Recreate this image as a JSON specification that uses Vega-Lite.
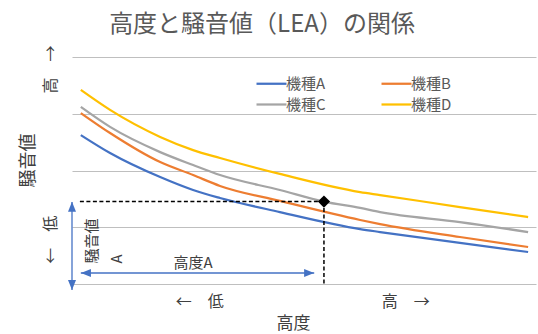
{
  "$schema": "https://vega.github.io/schema/vega-lite/v6.json",
  "width": 464,
  "height": 227,
  "autosize": {"type": "none"},
  "padding": {"left": 72, "top": 57, "right": 2, "bottom": 50},
  "title": {
    "text": "高度と騒音値（LEA）の関係",
    "frame": "group",
    "anchor": "middle",
    "dx": -42,
    "offset": 8,
    "fontSize": 24,
    "fontWeight": "normal",
    "color": "#595959"
  },
  "config": {
    "font": "Noto Sans CJK JP",
    "view": {"stroke": null},
    "axis": {"domain": false, "ticks": false, "tickSize": 0}
  },
  "datasets": {
    "curves": [
      {"model": "機種A", "altitude": 1.9, "noise": 65.6},
      {"model": "機種A", "altitude": 8.2, "noise": 57.7},
      {"model": "機種A", "altitude": 19.0, "noise": 47.1},
      {"model": "機種A", "altitude": 26.1, "noise": 41.4},
      {"model": "機種A", "altitude": 31.9, "noise": 37.9},
      {"model": "機種A", "altitude": 44.8, "noise": 31.7},
      {"model": "機種A", "altitude": 62.1, "noise": 24.2},
      {"model": "機種A", "altitude": 66.4, "noise": 22.9},
      {"model": "機種A", "altitude": 83.6, "noise": 18.1},
      {"model": "機種A", "altitude": 98.3, "noise": 14.1},
      {"model": "機種B", "altitude": 1.9, "noise": 75.3},
      {"model": "機種B", "altitude": 8.2, "noise": 66.5},
      {"model": "機種B", "altitude": 19.0, "noise": 53.7},
      {"model": "機種B", "altitude": 26.1, "noise": 48.0},
      {"model": "機種B", "altitude": 31.9, "noise": 43.2},
      {"model": "機種B", "altitude": 44.8, "noise": 36.6},
      {"model": "機種B", "altitude": 62.1, "noise": 28.2},
      {"model": "機種B", "altitude": 66.4, "noise": 26.4},
      {"model": "機種B", "altitude": 83.6, "noise": 20.7},
      {"model": "機種B", "altitude": 98.3, "noise": 16.3},
      {"model": "機種C", "altitude": 1.9, "noise": 78.0},
      {"model": "機種C", "altitude": 8.2, "noise": 69.2},
      {"model": "機種C", "altitude": 19.0, "noise": 58.1},
      {"model": "機種C", "altitude": 26.1, "noise": 52.4},
      {"model": "機種C", "altitude": 31.9, "noise": 48.0},
      {"model": "機種C", "altitude": 44.8, "noise": 41.4},
      {"model": "機種C", "altitude": 54.3, "noise": 36.3},
      {"model": "機種C", "altitude": 62.1, "noise": 33.5},
      {"model": "機種C", "altitude": 66.4, "noise": 31.7},
      {"model": "機種C", "altitude": 83.6, "noise": 27.3},
      {"model": "機種C", "altitude": 98.3, "noise": 22.9},
      {"model": "機種D", "altitude": 1.9, "noise": 85.5},
      {"model": "機種D", "altitude": 8.2, "noise": 76.7},
      {"model": "機種D", "altitude": 19.0, "noise": 64.8},
      {"model": "機種D", "altitude": 26.1, "noise": 59.0},
      {"model": "機種D", "altitude": 31.9, "noise": 55.5},
      {"model": "機種D", "altitude": 44.8, "noise": 48.5},
      {"model": "機種D", "altitude": 62.1, "noise": 40.5},
      {"model": "機種D", "altitude": 66.4, "noise": 39.2},
      {"model": "機種D", "altitude": 83.6, "noise": 33.9},
      {"model": "機種D", "altitude": 98.3, "noise": 29.5}
    ],
    "dashes": [
      {"item": "noise level", "x": 1.7, "x2": 54.3, "y": 36.3, "y2": 36.3},
      {"item": "altitude", "x": 54.3, "x2": 54.3, "y": 36.3, "y2": 0}
    ],
    "arrows": [
      {"item": "騒音値A", "x": 0, "x2": 0, "y": 36.1, "y2": -2.6},
      {"item": "高度A", "x": 1.9, "x2": 52.2, "y": 4.85, "y2": 4.85}
    ],
    "heads": [
      {"dir": "up", "x": 0, "y": 34.0},
      {"dir": "down", "x": 0, "y": -0.4},
      {"dir": "left", "x": 3.0, "y": 4.85},
      {"dir": "right", "x": 51.1, "y": 4.85}
    ],
    "point": [{"model": "機種C", "altitude": 54.3, "noise": 36.3}],
    "labels": [
      {"text": "高度A", "x": 26.1, "y": 9.3, "rot": "no"},
      {"text": "騒音値", "x": 4.3, "y": 18.9, "rot": "yes"},
      {"text": "A", "x": 9.7, "y": 11.0, "rot": "yes"}
    ]
  },
  "layer": [
    {
      "data": {"name": "curves"},
      "mark": {"type": "line", "interpolate": "monotone", "strokeWidth": 2.25},
      "encoding": {
        "x": {
          "field": "altitude",
          "type": "quantitative",
          "scale": {"domain": [0, 100], "nice": false, "zero": true},
          "axis": {
            "title": "高度",
            "titleFontSize": 17,
            "titleFontWeight": "normal",
            "titleColor": "#404040",
            "titleX": 221,
            "titleY": 39,
            "titleBaseline": "middle",
            "titleAlign": "center",
            "grid": false,
            "values": [27.4, 71.8],
            "labelExpr": "datum.value < 50 ? '←　低' : '高　→'",
            "labelFontSize": 16,
            "labelColor": "#404040",
            "labelPadding": 9,
            "labelBaseline": "top"
          }
        },
        "y": {
          "field": "noise",
          "type": "quantitative",
          "scale": {"domain": [0, 100], "nice": false},
          "axis": {
            "title": "騒音値",
            "titleFontSize": 18,
            "titleFontWeight": "normal",
            "titleColor": "#404040",
            "titleX": -44,
            "titleY": 103,
            "titleAlign": "center",
            "titleBaseline": "middle",
            "titleAngle": 270,
            "grid": true,
            "gridColor": "#BFBFBF",
            "gridOpacity": 1,
            "gridWidth": 1,
            "values": [0, 25, 50, 75, 100],
            "labelExpr": "datum.value == 25 ? '←　低' : (datum.value == 100 ? '高　→' : '')",
            "labelOffset": 12,
            "labelAngle": 270,
            "labelAlign": "center",
            "labelBaseline": "middle",
            "labelFontSize": 16,
            "labelColor": "#404040",
            "labelPadding": 22,
            "labelOverlap": false,
            "labelBound": false,
            "labelFlush": false
          }
        },
        "color": {
          "field": "model",
          "type": "nominal",
          "scale": {
            "domain": ["機種A", "機種B", "機種C", "機種D"],
            "range": ["#4472C4", "#ED7D31", "#A5A5A5", "#FFC000"]
          },
          "legend": {
            "title": null,
            "orient": "none",
            "legendX": 188,
            "legendY": 15,
            "columns": 2,
            "values": ["機種A", "機種C", "機種B", "機種D"],
            "columnPadding": 51,
            "rowPadding": 1,
            "padding": 0,
            "symbolType": "M-1.5,0H1.5",
            "symbolSize": 400,
            "symbolStrokeWidth": 2.25,
            "symbolFillColor": "transparent",
            "labelOffset": 3,
            "labelFontSize": 15,
            "labelColor": "#595959"
          }
        }
      }
    },
    {
      "data": {"name": "dashes"},
      "mark": {"type": "rule", "color": "#000000", "strokeWidth": 1.5, "strokeDash": [4, 2.5]},
      "encoding": {
        "x": {"field": "x", "type": "quantitative"},
        "x2": {"field": "x2"},
        "y": {"field": "y", "type": "quantitative"},
        "y2": {"field": "y2"}
      }
    },
    {
      "data": {"name": "arrows"},
      "mark": {"type": "rule", "color": "#4472C4", "strokeWidth": 1.3},
      "encoding": {
        "x": {"field": "x", "type": "quantitative"},
        "x2": {"field": "x2"},
        "y": {"field": "y", "type": "quantitative"},
        "y2": {"field": "y2"}
      }
    },
    {
      "data": {"name": "heads"},
      "transform": [{"filter": "datum.dir === 'up'"}],
      "mark": {"type": "point", "shape": "M0,-1L0.8,1L-0.8,1Z", "size": 100, "filled": true, "color": "#4472C4", "opacity": 1},
      "encoding": {"x": {"field": "x", "type": "quantitative"}, "y": {"field": "y", "type": "quantitative"}}
    },
    {
      "data": {"name": "heads"},
      "transform": [{"filter": "datum.dir === 'down'"}],
      "mark": {"type": "point", "shape": "M0,1L0.8,-1L-0.8,-1Z", "size": 100, "filled": true, "color": "#4472C4", "opacity": 1},
      "encoding": {"x": {"field": "x", "type": "quantitative"}, "y": {"field": "y", "type": "quantitative"}}
    },
    {
      "data": {"name": "heads"},
      "transform": [{"filter": "datum.dir === 'left'"}],
      "mark": {"type": "point", "shape": "M-1,0L1,-0.8L1,0.8Z", "size": 100, "filled": true, "color": "#4472C4", "opacity": 1},
      "encoding": {"x": {"field": "x", "type": "quantitative"}, "y": {"field": "y", "type": "quantitative"}}
    },
    {
      "data": {"name": "heads"},
      "transform": [{"filter": "datum.dir === 'right'"}],
      "mark": {"type": "point", "shape": "M1,0L-1,-0.8L-1,0.8Z", "size": 100, "filled": true, "color": "#4472C4", "opacity": 1},
      "encoding": {"x": {"field": "x", "type": "quantitative"}, "y": {"field": "y", "type": "quantitative"}}
    },
    {
      "data": {"name": "point"},
      "mark": {"type": "point", "shape": "diamond", "size": 150, "filled": true, "color": "#000000", "opacity": 1},
      "encoding": {"x": {"field": "altitude", "type": "quantitative"}, "y": {"field": "noise", "type": "quantitative"}}
    },
    {
      "data": {"name": "labels"},
      "transform": [{"filter": "datum.rot === 'no'"}],
      "mark": {"type": "text", "fontSize": 15, "color": "#404040", "align": "center", "baseline": "middle"},
      "encoding": {
        "x": {"field": "x", "type": "quantitative"},
        "y": {"field": "y", "type": "quantitative"},
        "text": {"field": "text"}
      }
    },
    {
      "data": {"name": "labels"},
      "transform": [{"filter": "datum.rot === 'yes'"}],
      "mark": {"type": "text", "fontSize": 15, "color": "#404040", "align": "center", "baseline": "middle", "angle": 270},
      "encoding": {
        "x": {"field": "x", "type": "quantitative"},
        "y": {"field": "y", "type": "quantitative"},
        "text": {"field": "text"}
      }
    }
  ]
}
